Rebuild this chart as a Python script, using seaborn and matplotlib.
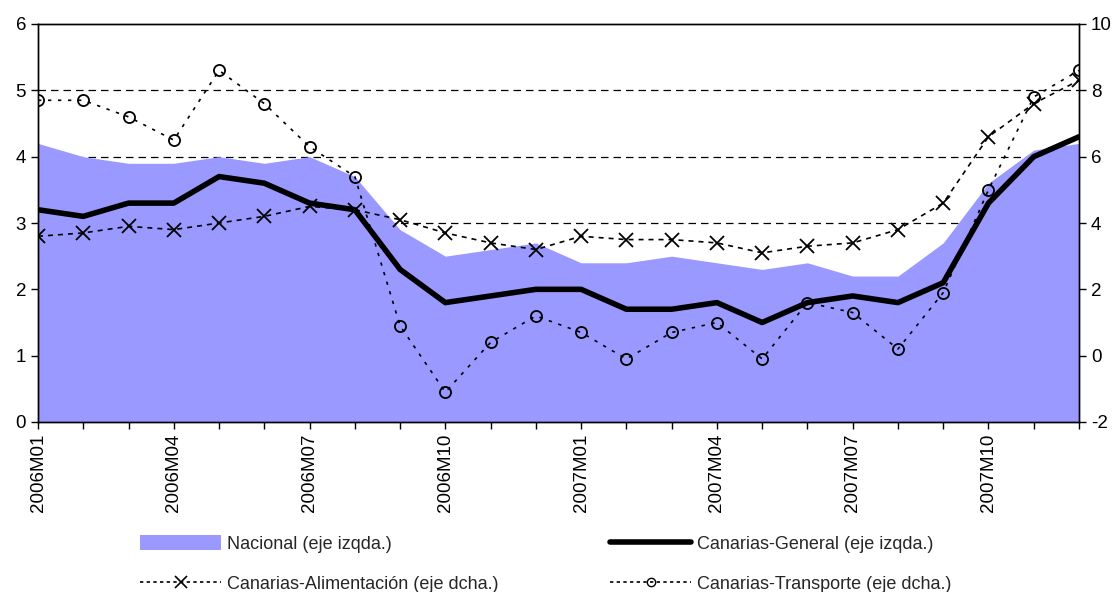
import numpy as np
import pandas as pd
import seaborn as sns
import matplotlib.pyplot as plt
from matplotlib.patches import Patch
from matplotlib.lines import Line2D

# Meses
meses = [f"{a}M{m:02d}" for a in (2006, 2007) for m in range(1, 13)]
etiquetas = ["2006M01", "2006M04", "2006M07", "2006M10",
             "2007M01", "2007M04", "2007M07", "2007M10"]

# Eje izquierdo
nacional = [4.2, 4.0, 3.9, 3.9, 4.0, 3.9, 4.0, 3.7, 2.9, 2.5, 2.6, 2.7,
            2.4, 2.4, 2.5, 2.4, 2.3, 2.4, 2.2, 2.2, 2.7, 3.6, 4.1, 4.2]
canarias_general = [3.2, 3.1, 3.3, 3.3, 3.7, 3.6, 3.3, 3.2, 2.3, 1.8, 1.9, 2.0,
                    2.0, 1.7, 1.7, 1.8, 1.5, 1.8, 1.9, 1.8, 2.1, 3.3, 4.0, 4.3]
# Eje derecho
canarias_alim = [3.6, 3.7, 3.9, 3.8, 4.0, 4.2, 4.5, 4.4, 4.1, 3.7, 3.4, 3.2,
                 3.6, 3.5, 3.5, 3.4, 3.1, 3.3, 3.4, 3.8, 4.6, 6.6, 7.6, 8.3]
canarias_transp = [7.7, 7.7, 7.2, 6.5, 8.6, 7.6, 6.3, 5.4, 0.9, -1.1, 0.4, 1.2,
                   0.7, -0.1, 0.7, 1.0, -0.1, 1.6, 1.3, 0.2, 1.9, 5.0, 7.8, 8.6]

df = pd.DataFrame({"x": np.arange(len(meses)), "mes": meses,
                   "nacional": nacional, "general": canarias_general,
                   "alim": canarias_alim, "transp": canarias_transp})

sns.set_style("ticks")
plt.rcParams['font.family'] = ['Liberation Sans', 'DejaVu Sans']
plt.rcParams['axes.unicode_minus'] = False

fig = plt.figure(figsize=(11.2, 5.92), dpi=100)
ax = fig.add_axes([38 / 1120, 1 - 422 / 592, (1079 - 38) / 1120, (422 - 24) / 592])
ax2 = ax.twinx()

azul = "#9999FF"
ax.fill_between(df["x"], 0, df["nacional"], color=azul, lw=0, zorder=2)
sns.lineplot(data=df, x="x", y="general", ax=ax, color="black", lw=4, zorder=3)

ax2.set_zorder(ax.get_zorder() + 1)
ax2.patch.set_visible(False)
sns.lineplot(data=df, x="x", y="alim", ax=ax2, color="black", lw=1.2,
             marker="x", markersize=10, markeredgewidth=1.3,
             markeredgecolor="black", linestyle=(0, (3, 3)))
sns.lineplot(data=df, x="x", y="transp", ax=ax2, color="black", lw=1.2,
             marker="o", markersize=8, markerfacecolor="none",
             markeredgecolor="black", markeredgewidth=1.3,
             linestyle=(0, (2, 4)))

# Ejes
ax.set_xlim(0, len(meses) - 1)
ax.set_ylim(0, 6)
ax2.set_ylim(-2, 10)
ax.set_yticks(range(0, 7))
ax2.set_yticks(range(-2, 11, 2))
for y in range(1, 6):
    ax.axhline(y, color="black", lw=0.9, ls=(0, (6, 4)), zorder=1)

ax.set_xticks(df["x"])
ax.set_xticklabels([m if m in etiquetas else "" for m in meses], rotation=90)
ax.set_xlabel("")
ax.set_ylabel("")
ax2.set_ylabel("")
for a in (ax, ax2):
    for s in a.spines.values():
        s.set_color("black")
        s.set_linewidth(1.0)
    a.tick_params(labelsize=13.5, length=5, color="black", width=1, labelcolor="black")

# Leyenda
h1 = [Patch(facecolor=azul, edgecolor="none"),
      Line2D([], [], color="black", lw=1.2, ls=(0, (2, 2)), marker="x",
             markersize=9, markevery=[1], markeredgewidth=1.2)]
l1 = ["Nacional (eje izqda.)", "Canarias-Alimentación (eje dcha.)"]
h2 = [Line2D([], [], color="black", lw=4),
      Line2D([], [], color="black", lw=1.2, ls=(0, (2, 2)), marker="o",
             markersize=6, markerfacecolor="none", markevery=[1])]
l2 = ["Canarias-General (eje izqda.)", "Canarias-Transporte (eje dcha.)"]

leg_kw = dict(loc="upper left", frameon=False, fontsize=13, handlelength=4.5,
              handleheight=0.9, handletextpad=0.3, labelspacing=1.25,
              borderpad=0, borderaxespad=0)
fig.legend(h1, l1, bbox_to_anchor=(140 / 1120, 1 - 535 / 592), **leg_kw)
fig.legend(h2, l2, bbox_to_anchor=(610 / 1120, 1 - 535 / 592), **leg_kw)

fig.savefig("out.png", dpi=100)
